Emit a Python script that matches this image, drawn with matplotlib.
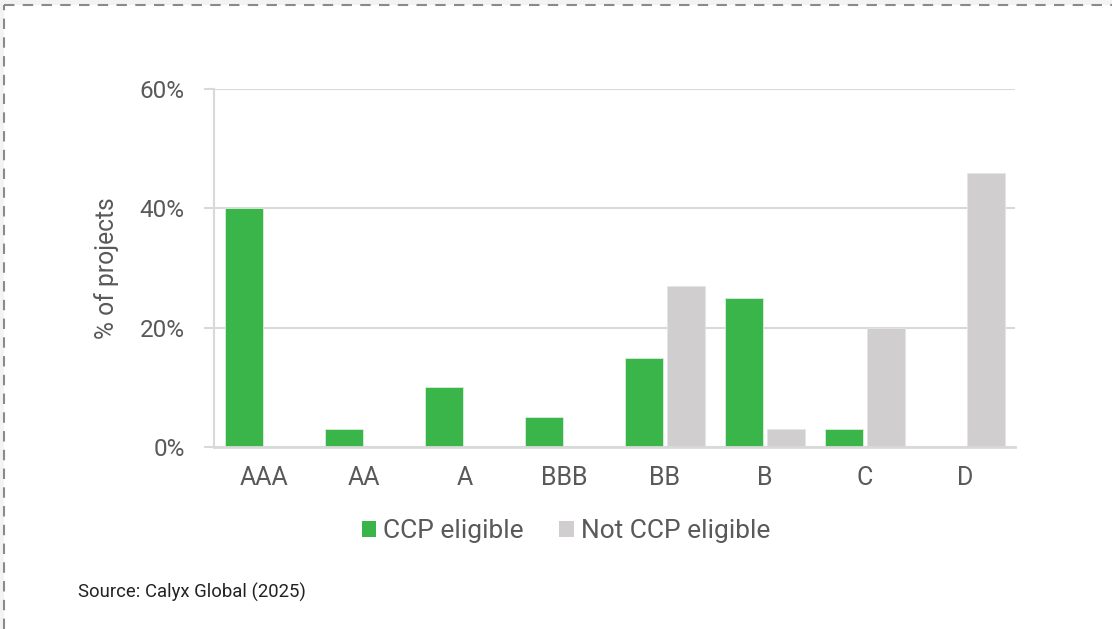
import matplotlib.pyplot as plt
import numpy as np
from matplotlib.lines import Line2D
from matplotlib.patches import Patch, Rectangle
from matplotlib.ticker import FuncFormatter

plt.rcParams['font.family'] = ['Roboto', 'DejaVu Sans']

# Data
ratings = ['AAA', 'AA', 'A', 'BBB', 'BB', 'B', 'C', 'D']
ccp_eligible = [40, 3, 10, 5, 15, 25, 3, 0]
not_ccp_eligible = [0, 0, 0, 0, 27, 3, 20, 46]

green = '#39B54A'
grey = '#D0CECE'
text_col = '#595959'
grid_col = '#D9D9D9'

fig = plt.figure(figsize=(11.12, 6.29), dpi=100)
ax = fig.add_axes([214 / 1112, 1 - 447 / 629, 801 / 1112, 358 / 629])

x = np.arange(len(ratings))
w = 0.38
ax.bar(x - 0.205, ccp_eligible, width=w, color=green, edgecolor='#d8eedb',
       linewidth=0.6, zorder=3, label='CCP eligible')
ax.bar(x + 0.21, not_ccp_eligible, width=w, color=grey, edgecolor='#e4e4e4',
       linewidth=0.6, zorder=3, label='Not CCP eligible')

ax.set_xlim(-0.5, 7.5)
ax.set_ylim(0, 60)
ax.set_yticks([0, 20, 40, 60])
ax.yaxis.set_major_formatter(FuncFormatter(lambda v, p: f'{v:.0f}%'))
ax.set_xticks(x)
ax.set_xticklabels(ratings)

ax.grid(axis='y', color=grid_col, linewidth=1.5, zorder=0)
for s in ['top', 'right', 'bottom']:
    ax.spines[s].set_visible(False)
ax.spines['left'].set_color(grid_col)
ax.spines['left'].set_linewidth(1.5)
ax.axhline(0, color=grid_col, linewidth=2, zorder=4, clip_on=False)

ax.tick_params(axis='y', length=7, width=1.5, color=grid_col, labelsize=17.5,
               labelcolor=text_col, pad=14)
ax.tick_params(axis='x', length=0, labelsize=18, labelcolor=text_col, pad=14)

ax.set_ylabel('% of projects', fontsize=17.7, color=text_col)
ax.yaxis.set_label_coords(-0.1186, 0.5)

handles = [Patch(facecolor=green, edgecolor='none'), Patch(facecolor=grey, edgecolor='none')]
fig.legend(handles, ['CCP eligible', 'Not CCP eligible'], loc='center',
           bbox_to_anchor=(566 / 1112, 1 - 531 / 629), ncol=2, frameon=False,
           fontsize=19, labelcolor=text_col, handlelength=0.55, handleheight=0.55,
           handletextpad=0.27, columnspacing=1.33)

fig.text(78 / 1112, 1 - 592 / 629, 'Source: Calyx Global (2025)', fontsize=13.3,
         color='#222222', va='center', ha='left')

# dashed frame at top and left
fig.patches.append(Rectangle((0, 1 - 5 / 629), 1, 5 / 629, transform=fig.transFigure,
                             facecolor='#f3f3f3', edgecolor='none', zorder=0))
fig.patches.append(Rectangle((0, 0), 4 / 1112, 1, transform=fig.transFigure,
                             facecolor='#f3f3f3', edgecolor='none', zorder=0))
fig.lines.append(Line2D([4 / 1112, 1], [1 - 5 / 629, 1 - 5 / 629], transform=fig.transFigure,
                        color='#8a8a8a', linewidth=1.5, linestyle=(0, (5, 4))))
fig.lines.append(Line2D([4 / 1112, 4 / 1112], [0, 1 - 5 / 629], transform=fig.transFigure,
                        color='#8a8a8a', linewidth=1.5, linestyle=(0, (5, 4))))

fig.savefig('out.png', dpi=100)
